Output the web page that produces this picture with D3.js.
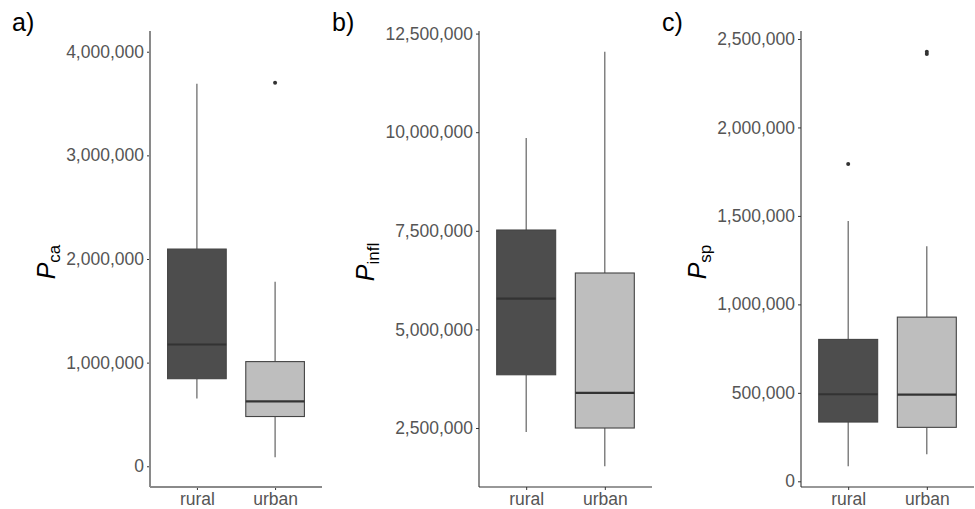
<!DOCTYPE html>
<html>
<head>
<meta charset="utf-8">
<script src="https://cdn.jsdelivr.net/npm/d3@7"></script>
<style>
  html, body { margin: 0; padding: 0; background: #fff; }
  svg { display: block; font-family: "Liberation Sans", Arial, sans-serif; }
</style>
</head>
<body>
<svg id="chart" width="975" height="509"></svg>
<script>
// ---------- data ----------
const categories = ["rural", "urban"];
const panelLabels = ["a)", "b)", "c)"];
const titleSubscripts = ["ca", "infl", "sp"];

// box stats: [lower whisker, Q1, median, Q3, upper whisker]
const caRural   = [654000, 845000, 1175000, 2096000, 3690000];
const caUrban   = [87000, 480000, 627000, 1010000, 1780000];
const caOutRural = [];
const caOutUrban = [3700000];

const inflRural = [2400000, 3850000, 5780000, 7520000, 9850000];
const inflUrban = [1530000, 2500000, 3390000, 6430000, 12040000];
const inflOutRural = [];
const inflOutUrban = [];

const spRural   = [85000, 335000, 492000, 802000, 1471000];
const spUrban   = [153000, 305000, 490000, 928000, 1329000];
const spOutRural = [1793000];
const spOutUrban = [2415000, 2428000];

const caTicks   = [0, 1000000, 2000000, 3000000, 4000000];
const inflTicks = [2500000, 5000000, 7500000, 10000000, 12500000];
const spTicks   = [0, 500000, 1000000, 1500000, 2000000, 2500000];

// y limits before 5% expansion (panel a has fixed limits, others follow data)
const caLimits = [0, 4000000];
const inflLimits = null;
const spLimits = null;

// ---------- layout ----------
const svg = d3.select("#chart");
const panelTop = 31, panelBottom = 487;
const panels = [
  { label: panelLabels[0], sub: titleSubscripts[0], stats: [caRural, caUrban], outs: [caOutRural, caOutUrban], ticks: caTicks, limits: caLimits,
    x0: 150, x1: 322, labelX: 12, axisColor: "#8a8a8a", axisWidth: 2 },
  { label: panelLabels[1], sub: titleSubscripts[1], stats: [inflRural, inflUrban], outs: [inflOutRural, inflOutUrban], ticks: inflTicks, limits: inflLimits,
    x0: 479, x1: 652, labelX: 332, axisColor: "#333333", axisWidth: 1.1 },
  { label: panelLabels[2], sub: titleSubscripts[2], stats: [spRural, spUrban], outs: [spOutRural, spOutUrban], ticks: spTicks, limits: spLimits,
    x0: 801, x1: 974, labelX: 662, axisColor: "#333333", axisWidth: 1.1 }
];
const fills = ["#4d4d4d", "#bebebe"];
const fmt = d3.format(",");

panels.forEach(p => {
  let lim = p.limits;
  if (!lim) {
    const all = p.stats.flat().concat(p.outs.flat());
    lim = d3.extent(all);
  }
  const span = lim[1] - lim[0];
  const y = d3.scaleLinear()
    .domain([lim[0] - 0.05 * span, lim[1] + 0.05 * span])
    .range([panelBottom, panelTop]);
  // discrete scale: expansion 0.6 each side
  const unit = (p.x1 - p.x0) / (categories.length - 1 + 1.2);
  const x = d3.scalePoint().domain(categories)
    .range([p.x0 + 0.6 * unit, p.x1 - 0.6 * unit]);
  const boxW = 0.75 * unit;

  const g = svg.append("g");

  // panel tag
  svg.append("text").attr("x", p.labelX).attr("y", 31)
    .attr("font-size", 25).attr("fill", "#000").text(p.label);

  // boxes
  categories.forEach((c, i) => {
    const s = p.stats[i];
    const cx = x(c);
    const bg = g.append("g");
    // whiskers
    bg.append("line").attr("x1", cx).attr("x2", cx).attr("y1", y(s[3])).attr("y2", y(s[4]))
      .attr("stroke", "#555").attr("stroke-width", 1.1);
    bg.append("line").attr("x1", cx).attr("x2", cx).attr("y1", y(s[1])).attr("y2", y(s[0]))
      .attr("stroke", "#555").attr("stroke-width", 1.1);
    // box
    bg.append("rect").attr("x", cx - boxW / 2).attr("width", boxW)
      .attr("y", y(s[3])).attr("height", y(s[1]) - y(s[3]))
      .attr("fill", fills[i]).attr("stroke", "#444").attr("stroke-width", 1.1);
    // median
    bg.append("line").attr("x1", cx - boxW / 2).attr("x2", cx + boxW / 2)
      .attr("y1", y(s[2])).attr("y2", y(s[2]))
      .attr("stroke", "#333").attr("stroke-width", 2.2);
    // outliers
    bg.selectAll("circle.o").data(p.outs[i]).join("circle")
      .attr("cx", cx).attr("cy", d => y(d)).attr("r", 2)
      .attr("fill", "#333");
  });

  // y axis
  const yAxis = d3.axisLeft(y).tickValues(p.ticks).tickFormat(fmt).tickSize(3).tickPadding(3);
  const ya = svg.append("g").attr("transform", `translate(${p.x0},0)`).call(yAxis);
  ya.select(".domain").remove();
  ya.selectAll(".tick line").attr("stroke", "#333").attr("stroke-width", 1);
  ya.selectAll(".tick text").attr("fill", "#555").attr("font-size", 17.5)
    .attr("font-family", "Liberation Sans, Arial, sans-serif");

  // x axis
  const xAxis = d3.axisBottom(x).tickSize(3).tickPadding(3);
  const xa = svg.append("g").attr("transform", `translate(0,${panelBottom})`).call(xAxis);
  xa.select(".domain").remove();
  xa.selectAll(".tick line").attr("stroke", "#333").attr("stroke-width", 1);
  xa.selectAll(".tick text").attr("fill", "#555").attr("font-size", 17.5)
    .attr("font-family", "Liberation Sans, Arial, sans-serif");

  // axis lines
  svg.append("line").attr("x1", p.x0).attr("x2", p.x0).attr("y1", panelTop).attr("y2", panelBottom)
    .attr("stroke", p.axisColor).attr("stroke-width", p.axisWidth);
  svg.append("line").attr("x1", p.x0).attr("x2", p.x1).attr("y1", panelBottom).attr("y2", panelBottom)
    .attr("stroke", p.axisColor).attr("stroke-width", p.axisWidth);

  // y title
  const bb = ya.node().getBBox();
  const tx = p.x0 + bb.x - 11;
  const ty = (panelTop + panelBottom) / 2 + 3;
  const t = svg.append("text")
    .attr("transform", `translate(${tx},${ty}) rotate(-90)`)
    .attr("text-anchor", "middle").attr("fill", "#000");
  t.append("tspan").attr("font-style", "italic").attr("font-size", 25).text("P");
  t.append("tspan").attr("font-size", 17).attr("dy", 5).text(p.sub);
});
</script>
</body>
</html>
